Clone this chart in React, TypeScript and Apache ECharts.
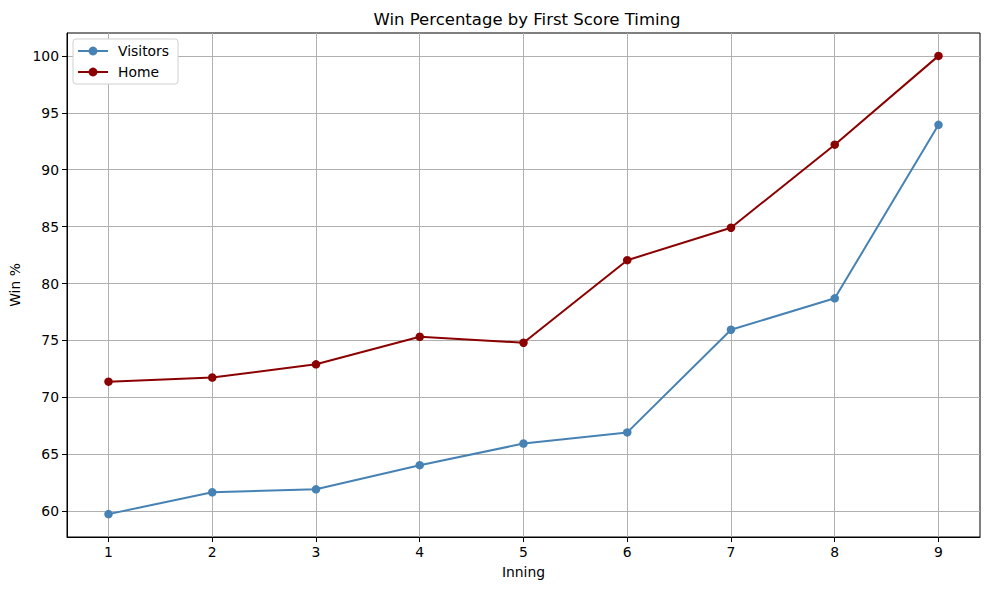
import React, { useEffect, useRef } from "react";
import * as echarts from "echarts";

const innings = [1, 2, 3, 4, 5, 6, 7, 8, 9];
const visitors = [59.74, 61.66, 61.92, 64.04, 65.94, 66.92, 75.94, 78.7, 93.94];
const home = [71.38, 71.74, 72.9, 75.32, 74.8, 82.05, 84.9, 92.2, 100.0];
const yTicks = [60, 65, 70, 75, 80, 85, 90, 95, 100];
const xTicks = innings;

const FONT = "DejaVu Sans";

export default function App() {
  const ref = useRef<HTMLDivElement>(null);
  useEffect(() => {
    if (!ref.current) return;
    const chart = echarts.init(ref.current, null, { renderer: "svg" });
    const pair = (ys: number[]) => innings.map((x, i) => [x, ys[i]]);
    chart.setOption({
      animation: false,
      backgroundColor: "#ffffff",
      textStyle: { fontFamily: FONT },
      title: {
        text: "Win Percentage by First Score Timing",
        left: 522,
        textAlign: "center",
        top: 6,
        textStyle: { fontFamily: FONT, fontSize: 16.5, fontWeight: "normal", color: "#000" },
      },
      grid: {
        left: 67,
        right: 9,
        top: 33,
        bottom: 53,
        outerBoundsMode: "none",
        containLabel: false,
        show: true,
        borderColor: "#000",
        borderWidth: 1,
        backgroundColor: "transparent",
      },
      legend: {
        orient: "vertical",
        left: 73,
        top: 39,
        padding: [5, 9, 5, 4],
        itemWidth: 30,
        itemHeight: 11,
        itemGap: 7,
        backgroundColor: "#fff",
        borderColor: "#d0d0d0",
        borderWidth: 1,
        borderRadius: 3,
        textStyle: { fontFamily: FONT, fontSize: 13.9, color: "#000", padding: [0, 0, 0, 5] },
        data: ["Visitors", "Home"],
      },
      xAxis: {
        type: "value",
        min: 0.6,
        max: 9.4,
        name: "Inning",
        nameLocation: "middle",
        nameGap: 28,
        nameTextStyle: { fontFamily: FONT, fontSize: 13.9, color: "#000" },
        axisLine: { show: true, lineStyle: { color: "#000", width: 1 } },
        axisTick: { show: true, length: 5, lineStyle: { color: "#000" }, customValues: xTicks },
        axisLabel: { fontFamily: FONT, fontSize: 13.9, color: "#000", margin: 8, customValues: xTicks },
        splitLine: { show: true, lineStyle: { color: "#b0b0b0", width: 1 } },
      },
      yAxis: {
        type: "value",
        min: 57.73,
        max: 102.01,
        name: "Win %",
        nameLocation: "middle",
        nameGap: 45,
        nameRotate: 90,
        nameTextStyle: { fontFamily: FONT, fontSize: 13.9, color: "#000" },
        axisLine: { show: true, lineStyle: { color: "#000", width: 1 } },
        axisTick: { show: true, length: 5, lineStyle: { color: "#000" }, customValues: yTicks },
        axisLabel: { fontFamily: FONT, fontSize: 13.9, color: "#000", margin: 8, customValues: yTicks },
        splitLine: { show: true, lineStyle: { color: "#b0b0b0", width: 1 } },
      },
      series: [
        {
          name: "Visitors",
          type: "line",
          data: pair(visitors),
          symbol: "circle",
          symbolSize: 8.5,
          showAllSymbol: true,
          color: "#4682b4",
          lineStyle: { color: "#4682b4", width: 2 },
          itemStyle: { color: "#4682b4" },
        },
        {
          name: "Home",
          type: "line",
          data: pair(home),
          symbol: "circle",
          symbolSize: 8.5,
          showAllSymbol: true,
          color: "#8b0000",
          lineStyle: { color: "#8b0000", width: 2 },
          itemStyle: { color: "#8b0000" },
        },
      ],
    });
    return () => chart.dispose();
  }, []);
  return (
    <div
      ref={ref}
      style={{ position: "fixed", left: 0, top: 0, width: 989, height: 590, background: "#fff" }}
    />
  );
}
